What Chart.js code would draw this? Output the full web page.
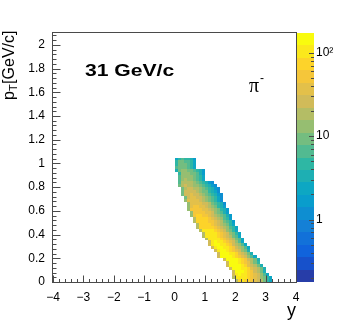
<!DOCTYPE html>
<html><head><meta charset="utf-8">
<script src="https://cdn.jsdelivr.net/npm/chart.js@4/dist/chart.umd.min.js"></script>
<style>html,body{margin:0;padding:0;background:#fff;}canvas{display:block}</style>
</head><body>
<canvas id="c" width="349" height="333" style="width:349px;height:333px"></canvas>
<script>
// ---------------- data ----------------
const xTickValues = [-4, -3, -2, -1, 0, 1, 2, 3, 4];
const yTickValues = [0, 0.2, 0.4, 0.6, 0.8, 1, 1.2, 1.4, 1.6, 1.8, 2];
const zTickValues = [1, 10, 100];
const xAxisRange = [-4, 4];
const yAxisRange = [0, 2.1];
const zAxisRange = [0.178, 173];
const ptBinWidth = 0.025;        // GeV/c per row
const rapidityBinWidth = 0.1;    // per column
// first rapidity bin index (bin k spans [k*0.1,(k+1)*0.1]) for each pT row (row i spans [i*0.025,(i+1)*0.025])
const rowFirstBin = [20,19,19,19,18,17,17,16,14,14,13,12,11,11,10,9,9,8,7,7,6,6,5,5,4,4,4,3,3,2,2,2,1,1,1,1,1,0,0,0,0,0];
// counts per row
const rowCounts = [
  [20, 75, 90, 86, 72, 55, 38, 25, 16, 10, 5.5, 2],
  [18, 92, 110, 106, 93, 75, 55, 37, 24, 15, 10, 5, 2],
  [25, 105, 125, 118, 100, 75, 52, 35, 22, 14, 7, 2.5],
  [30, 125, 140, 126, 100, 70, 45, 28, 17, 8, 3],
  [25, 128, 150, 142, 120, 90, 63, 42, 27, 16, 9, 3],
  [25, 132, 155, 147, 124, 93, 65, 43, 28, 17, 9, 3],
  [30, 145, 160, 144, 115, 80, 51, 32, 19, 10, 4],
  [24, 134, 158, 150, 126, 95, 66, 44, 28, 17, 9, 3],
  [22, 130, 155, 150, 132, 105, 78, 53, 34, 22, 14, 7, 2.5],
  [25, 128, 150, 142, 120, 90, 63, 42, 27, 16, 9, 3],
  [24, 119, 140, 133, 112, 84, 59, 39, 25, 15, 8, 3],
  [22, 115, 135, 131, 115, 92, 68, 46, 30, 19, 12, 7, 2.5],
  [22, 110, 130, 126, 110, 88, 65, 44, 29, 18, 12, 6.5, 2.5],
  [22, 106, 125, 119, 100, 75, 52, 35, 22, 14, 7.5, 2.5],
  [20, 102, 120, 116, 102, 82, 60, 41, 26, 17, 11, 6, 2.5],
  [20, 98, 115, 112, 98, 78, 58, 39, 25, 16, 10, 6, 2.5],
  [20, 94, 110, 107, 94, 75, 55, 37, 24, 15, 10, 5.5, 2],
  [20, 89, 105, 102, 89, 71, 52, 36, 23, 15, 9.5, 5.5, 2],
  [17, 70, 82, 85, 77, 64, 50, 36, 26, 18, 12, 7.5, 4.3, 2],
  [17, 70, 82, 80, 70, 56, 42, 29, 20, 13, 8.5, 5, 2],
  [16, 63, 75, 78, 71, 59, 46, 34, 24, 17, 11, 7, 4, 1.8],
  [16, 62, 72, 70, 62, 49, 37, 26, 18, 12, 7.5, 4.3, 1.8],
  [15, 54, 63, 66, 60, 50, 39, 29, 21, 14, 9.5, 6, 3.5, 1.7],
  [15, 51, 60, 58, 51, 41, 31, 22, 15, 10, 6.5, 3.8, 1.7],
  [14, 44, 52, 54, 49, 41, 32, 24, 17, 12, 8, 5, 3, 1.5],
  [13, 41, 48, 47, 41, 33, 25, 18, 12, 8, 5.5, 3.2, 1.5],
  [12, 36, 42, 41, 36, 29, 22, 16, 11, 7.5, 5, 2.8, 1.4],
  [12, 32, 38, 37, 32, 26, 20, 14, 10, 6.8, 4.5, 2.6, 1.4],
  [11, 29, 34, 33, 29, 23, 18, 13, 9, 6.2, 4, 2.4, 1.3],
  [10, 25, 30, 31, 28, 24, 19, 14, 10.5, 7.5, 5, 3.2, 1.8, 1.1],
  [10, 24, 28, 27, 24, 20, 15, 11, 8, 5.5, 3.4, 2, 1.1],
  [9, 21, 25, 24, 21, 17, 13.5, 10, 7, 4.8, 3, 1.8, 1.1],
  [8, 19, 22, 21.5, 19, 15, 12, 9, 6.5, 4.4, 2.8, 1.6, 1.1],
  [7, 17, 20, 19, 16, 13, 10, 7, 4.6, 2.8, 1.8, 1.1],
  [6, 14, 16, 15, 12.5, 10, 7, 4.5, 2.2],
  [6, 13, 15, 14, 11.5, 9, 6.5, 4, 2],
  [5, 12, 14, 13, 10.5, 8, 6, 3.8, 1.9],
  [3.5, 10, 12.5, 13, 11, 8.5, 6.5, 4.5, 3, 1.6],
  [6, 10, 11, 9.5, 7.5, 5, 2.6],
  [5.5, 9.5, 10, 8.5, 6.5, 4.5, 2.4],
  [5, 8, 9, 7.5, 6, 4, 2.2],
  [2.5, 5, 6, 5.5, 4.5, 3, 1.8]
];

// ---------------- palette (ROOT kBird) ----------------
const birdStops = [0, 0.125, 0.25, 0.375, 0.5, 0.625, 0.75, 0.875, 1];
const birdR = [0.2082, 0.0592, 0.0780, 0.0232, 0.1802, 0.5301, 0.8186, 0.9956, 0.9764];
const birdG = [0.1664, 0.3599, 0.5041, 0.6419, 0.7178, 0.7492, 0.7328, 0.7862, 0.9832];
const birdB = [0.5293, 0.8684, 0.8385, 0.7914, 0.6425, 0.4662, 0.3499, 0.1968, 0.0539];
const nLevels = 20;
function birdColor(t) {
  let i = 0;
  while (i < birdStops.length - 2 && t > birdStops[i + 1]) i++;
  const f = (t - birdStops[i]) / (birdStops[i + 1] - birdStops[i]);
  const c = a => Math.round(255 * (a[i] + f * (a[i + 1] - a[i])));
  return `rgb(${c(birdR)},${c(birdG)},${c(birdB)})`;
}
function levelColor(j) {
  const idx = Math.floor((j + 0.99) * 255 / nLevels);
  return birdColor(Math.min(idx, 254) / 254);
}
const lzMin = Math.log10(zAxisRange[0]), lzMax = Math.log10(zAxisRange[1]);
function valueLevel(v) {
  let j = Math.floor((Math.log10(v) - lzMin) / (lzMax - lzMin) * nLevels);
  return Math.max(0, Math.min(nLevels - 1, j));
}

// ---------------- cells ----------------
const cells = [];
rowCounts.forEach((row, i) => {
  row.forEach((v, k) => {
    const b = rowFirstBin[i] + k;
    cells.push({ x: (b + 0.5) * rapidityBinWidth, y: (i + 0.5) * ptBinWidth, v });
  });
});

const FONT = "'Liberation Sans', Arial, Helvetica, sans-serif";
Chart.defaults.font.family = FONT;
Chart.defaults.color = '#000';
const LINE = '#4a4a4a';

const fmtNum = v => {
  const r = Math.round(v * 10) / 10;
  return r < 0 ? '\u2212' + Math.abs(r) : String(r);
};

const heatPlugin = {
  id: 'heat',
  beforeDatasetsDraw(chart) {
    const { ctx, scales: { x, y } } = chart;
    ctx.save();
    for (const c of chart.data.datasets[0].data) {
      const x0 = Math.round(x.getPixelForValue(c.x - rapidityBinWidth / 2));
      const x1 = Math.round(x.getPixelForValue(c.x + rapidityBinWidth / 2));
      const y0 = Math.round(y.getPixelForValue(c.y + ptBinWidth / 2));
      const y1 = Math.round(y.getPixelForValue(c.y - ptBinWidth / 2));
      ctx.fillStyle = levelColor(valueLevel(c.v));
      ctx.fillRect(x0, y0, x1 - x0, y1 - y0);
    }
    ctx.restore();
  },
  afterDatasetsDraw(chart) {
    const { ctx, chartArea: a, scales: { x, y, z } } = chart;
    ctx.save();
    // color bar
    const bx0 = Math.round(a.right) + 1, bx1 = bx0 + 17;
    for (let j = 0; j < nLevels; j++) {
      const lo = lzMin + (lzMax - lzMin) * j / nLevels;
      const hi = lzMin + (lzMax - lzMin) * (j + 1) / nLevels;
      const py0 = Math.round(z.getPixelForValue(Math.pow(10, hi)));
      const py1 = Math.round(z.getPixelForValue(Math.pow(10, lo)));
      ctx.fillStyle = levelColor(j);
      ctx.fillRect(bx0, py0, bx1 - bx0, py1 - py0);
    }
    // frame
    ctx.strokeStyle = LINE;
    ctx.lineWidth = 1;
    const L = Math.round(a.left) - 0.5, R = Math.round(a.right) + 0.5;
    const T = Math.round(a.top) - 0.5, B = Math.round(a.bottom) + 0.5;
    ctx.strokeRect(L, T, R - L, B - T);
    ctx.beginPath();
    // x ticks
    for (let i = 0; i <= 40; i++) {
      const v = xAxisRange[0] + i * 0.2;
      const px = Math.round(x.getPixelForValue(v)) + 0.5;
      const len = (i % 5 === 0) ? 7 : 3.5;
      ctx.moveTo(px, B); ctx.lineTo(px, B - len);
    }
    // y ticks
    for (let i = 0; i <= 52; i++) {
      const v = i * 0.04;
      if (v > yAxisRange[1]) break;
      const py = Math.round(y.getPixelForValue(v)) + 0.5;
      const len = (i % 5 === 0) ? 8 : 4;
      ctx.moveTo(L, py); ctx.lineTo(L + len, py);
    }
    // z ticks
    for (let d = -1; d <= 2; d++) {
      for (let m = 1; m <= 9; m++) {
        const v = m * Math.pow(10, d);
        if (v < zAxisRange[0] || v > zAxisRange[1]) continue;
        const py = Math.round(z.getPixelForValue(v)) + 0.5;
        const len = m === 1 ? 5 : 3;
        ctx.moveTo(bx1, py); ctx.lineTo(bx1 - len, py);
      }
    }
    ctx.stroke();

    // y axis title p_T[GeV/c]
    ctx.fillStyle = '#000';
    ctx.save();
    ctx.translate(14, 100);
    ctx.rotate(-Math.PI / 2);
    ctx.textBaseline = 'alphabetic';
    ctx.font = `16px ${FONT}`;
    ctx.fillText('p', 0, 0);
    let w = ctx.measureText('p').width;
    ctx.font = `11px ${FONT}`;
    ctx.fillText('T', w, 3);
    w += ctx.measureText('T').width + 0.5;
    ctx.font = `16px ${FONT}`;
    ctx.fillText('[GeV/c]', w, 0);
    ctx.restore();

    // energy label
    ctx.save();
    ctx.translate(85, 76);
    ctx.scale(1.32, 1);
    ctx.font = `bold 16px ${FONT}`;
    ctx.fillText('31 GeV/c', 0, 0);
    ctx.restore();

    // particle label
    ctx.font = `20px 'Liberation Serif', 'Times New Roman', serif`;
    ctx.fillText('\u03c0', 249, 92);
    ctx.font = `12px ${FONT}`;
    ctx.fillText('-', 260, 82);
    ctx.restore();
  }
};

new Chart(document.getElementById('c').getContext('2d'), {
  type: 'scatter',
  data: { datasets: [{ label: '\u03c0-', data: cells, pointRadius: 0, pointHoverRadius: 0 }] },
  options: {
    responsive: false,
    animation: false,
    devicePixelRatio: 1,
    events: [],
    layout: { padding: { top: 33, left: 0, right: 0, bottom: 0 } },
    plugins: { legend: { display: false }, tooltip: { enabled: false } },
    scales: {
      x: {
        type: 'linear', position: 'bottom', min: xAxisRange[0], max: xAxisRange[1],
        grid: { display: false, drawTicks: false }, border: { display: false },
        afterBuildTicks: ax => { ax.ticks = xTickValues.map(v => ({ value: v })); },
        afterFit: ax => { ax.height = 51; },
        ticks: { padding: 8, autoSkip: false, maxRotation: 0, font: { size: 12 }, callback: v => fmtNum(v) },
        title: { display: true, text: 'y', align: 'end', font: { size: 18 }, padding: { top: 0, bottom: 11 } }
      },
      y: {
        type: 'linear', position: 'left', min: yAxisRange[0], max: yAxisRange[1],
        grid: { display: false, drawTicks: false }, border: { display: false },
        afterBuildTicks: ax => { ax.ticks = yTickValues.map(v => ({ value: v })); },
        afterFit: ax => { ax.width = 53; },
        ticks: { padding: 8, autoSkip: false, font: { size: 12 }, callback: v => fmtNum(v) }
      },
      z: {
        type: 'logarithmic', position: 'right', min: zAxisRange[0], max: zAxisRange[1],
        grid: { display: false, drawTicks: false }, border: { display: false },
        afterBuildTicks: ax => { ax.ticks = zTickValues.map(v => ({ value: v })); },
        afterFit: ax => { ax.width = 53; },
        ticks: { padding: 20, autoSkip: false, font: { size: 12 }, callback: v => (v === 100 ? '10\u00b2' : String(v)) }
      }
    }
  },
  plugins: [heatPlugin]
});
</script>
</body></html>
